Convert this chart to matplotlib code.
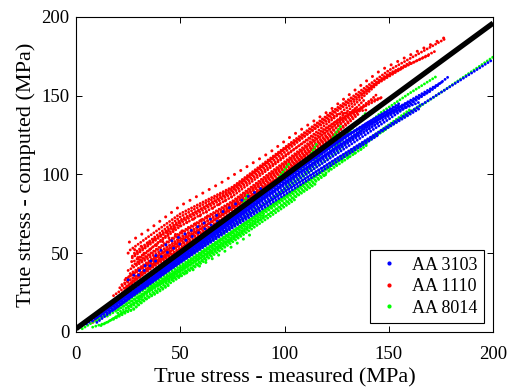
import matplotlib
matplotlib.use("Agg")
import matplotlib.pyplot as plt
from matplotlib.lines import Line2D

# ---------------- data ----------------
series_names = ["AA 3103", "AA 1110", "AA 8014"]
x_ticks = [0, 50, 100, 150, 200]
y_ticks = [0, 50, 100, 150, 200]

ideal_x = [0, 200]
ideal_y = [2, 196]

# AA 3103 (blue) curves: (measured, computed)
aa3103_curves = [
    ([5, 25, 50, 75, 100, 125, 150, 175, 200], [5, 23, 45, 67, 89, 110, 131, 152, 173]),
    ([8, 25, 50, 75, 100, 125, 150, 170, 178.6], [7, 24, 47, 70, 93, 115, 137, 153, 162]),
    ([10, 30, 50, 75, 100, 125, 150, 176], [9, 28, 48, 71, 95, 117, 139, 159]),
    ([12, 30, 50, 75, 100, 125, 150, 174], [10, 27, 46, 69, 91, 113, 135, 157]),
    ([15, 35, 55, 75, 100, 125, 150, 165], [12, 30, 49, 68, 89, 110, 130, 142]),
    ([10, 30, 50, 75, 100, 125, 145], [6, 26, 44, 66, 87, 108, 125]),
    ([20, 35, 50, 70, 90, 110, 130, 150, 165], [22, 36, 51, 70, 89, 107, 125, 138, 146]),
    ([18, 40, 60, 80, 100, 120, 140, 160], [14, 35, 55, 75, 94, 113, 131, 146]),
    ([28, 45, 65, 85, 105, 120], [25, 43, 63, 83, 101, 115]),
    ([22, 40, 60, 80, 100, 120, 140, 155], [18, 37, 57, 77, 97, 115, 133, 144]),
    ([15, 35, 55, 75, 95, 115, 135, 155], [15, 33, 52, 72, 92, 111, 129, 145]),
    ([25, 45, 65, 85, 105, 125, 145], [22, 41, 60, 80, 99, 116, 133]),
    ([30, 50, 70, 90, 110, 130, 150, 170], [30, 49, 68, 88, 107, 125, 139, 153]),
]
aa3103_sparse = [
    ([25, 35.5, 44, 50.7, 60, 75, 90], [33, 44.6, 56.5, 61, 68, 80, 92]),
    ([30, 40, 50, 60, 70], [36, 47, 56, 64, 72]),
]

# AA 1110 (red) curves
aa1110_curves = [
    ([26, 50, 75, 100, 125, 150, 177], [52, 75, 92, 117, 142, 166, 186]),
    ([27, 50, 75, 100, 125, 150, 172], [48, 71, 89, 114, 140, 163, 178]),
    ([28, 50, 75, 100, 125, 145, 160], [45, 67, 86, 111, 137, 159, 171]),
    ([27, 50, 75, 100, 125, 145, 156], [42, 63, 83, 108, 134, 158, 167]),
    ([30, 50, 75, 100, 125, 140, 147], [40, 60, 80, 105, 130, 146, 149]),
    ([26, 50, 75, 100, 125, 144], [37, 57, 78, 103, 127, 150.5]),
    ([24, 50, 75, 100, 120, 138], [34, 55, 76, 101, 123, 147]),
    ([22, 50, 75, 100, 125, 136], [30, 53, 75, 100, 126, 139]),
    ([18, 40, 60, 80, 100, 115], [23, 44, 62, 81, 101, 118]),
    ([8, 15, 25, 40, 55], [6, 14, 25, 42, 58]),
    ([23.5, 35, 50, 65, 80, 95], [33, 44, 58, 70, 83, 96]),
    ([30, 50, 75, 100, 125, 147], [46, 69, 88, 112, 134, 149]),
    ([28, 50, 75, 100, 125, 140], [50, 73, 91, 116, 138, 141]),
    ([27, 50, 75, 100, 125, 150, 170], [47, 70, 90, 116, 141, 164, 176]),
    ([29, 50, 75, 100, 120, 135], [43, 62, 82, 107, 127, 143]),
    ([25, 50, 75, 100, 115, 130], [39, 59, 81, 106, 122, 137]),
    ([21, 40, 60, 80, 100, 120], [28, 46, 65, 85, 104, 124]),
    ([20, 28, 35, 45], [22, 32, 40, 50]),
    ([24, 30, 38, 48], [28, 36, 44, 54]),
]
aa1110_sparse = [
    ([25.6, 35, 50, 70, 93, 103, 122, 138, 146, 162, 177], [57, 65, 80, 95, 114, 124, 141, 158, 166, 177, 187]),
    ([25, 35, 45, 60, 75], [50, 57, 64, 74, 86]),
    ([26.7, 35, 45, 55, 65], [44.6, 52, 60, 67, 75]),
]

# AA 8014 (green) curves
aa8014_curves = [
    ([3, 25, 50, 75, 100, 125, 150, 175, 200], [2, 20, 42, 64, 86, 108, 130, 152, 174.5]),
    ([10, 30, 50, 75, 100, 125, 146, 160, 173.2], [7, 25, 44, 67, 90, 114, 139, 151.5, 162.5]),
    ([12, 20, 40, 60, 80, 100, 119.6], [4, 10, 28, 45, 63, 82, 99.7]),
    ([70, 85, 95, 102.8], [62, 78, 94, 108]),
    ([85, 100, 110, 115.6], [76, 91, 106, 120]),
    ([95, 110, 120, 126.8], [86, 101, 117, 130.4]),
    ([110, 125, 135, 139.6], [101, 118, 133, 140]),
    ([60, 70, 78, 82.7], [56, 66, 76, 88]),
    ([8, 15, 22, 27.5, 32, 38, 45], [3, 6, 12, 14, 20, 24, 30]),
    ([20, 30, 35, 45, 55, 65, 80], [12, 20, 27, 33, 40, 50, 63]),
    ([15, 30, 45, 60, 80, 100, 120, 140, 160], [10, 22, 36, 50, 68, 86, 104, 122, 141]),
    ([25, 40, 60, 80, 100, 115], [16, 30, 47, 64, 81, 94]),
    ([18, 28, 38, 50, 65, 85, 105], [8, 15, 25, 35, 48, 66, 84]),
    ([20, 40, 60, 80, 100, 120, 140], [14, 31, 48, 66, 84, 101, 119]),
    ([30, 45, 60, 75, 90], [22, 34, 47, 60, 74]),
    ([35, 50, 70, 90, 110, 130, 150, 165], [28, 40, 58, 76, 94, 112, 130, 144]),
]
aa8014_sparse = [
    ([40, 46.6, 54.7, 70, 85], [30, 34, 38.3, 50, 63]),
    ([119.6, 122, 136.4, 141, 150], [99.7, 104, 115.6, 122, 130]),
]

# ---------------- drawing ----------------
plt.rcParams["font.family"] = ["Liberation Serif", "DejaVu Serif"]

fig = plt.figure(figsize=(5.1, 3.9), dpi=100)
ax = fig.add_axes([0.149, 0.149, 0.818, 0.808])

colors = {"AA 3103": (0, 0, 1), "AA 1110": (1, 0, 0), "AA 8014": (0, 1, 0)}
dense_style = dict(linestyle=(0, (0.01, 1.1)), linewidth=2.1, dash_capstyle="round")
sparse_style = dict(linestyle=(0, (0.01, 2.4)), linewidth=2.2, dash_capstyle="round")

def draw(curves, sparse, color, z):
    for xs, ys in curves:
        ax.plot(xs, ys, color=color, zorder=z, **dense_style)
    for xs, ys in sparse:
        ax.plot(xs, ys, color=color, zorder=z, **sparse_style)

draw(aa1110_curves, aa1110_sparse, colors["AA 1110"], 2)
draw(aa8014_curves, aa8014_sparse, colors["AA 8014"], 3)
draw(aa3103_curves, aa3103_sparse, colors["AA 3103"], 4)

ax.plot(ideal_x, ideal_y, color="black", linewidth=3.8, zorder=6, solid_capstyle="butt")

ax.set_xlim(0, 200)
ax.set_ylim(0, 200)
ax.set_xticks(x_ticks)
ax.set_yticks(y_ticks)
ax.tick_params(direction="in", top=True, right=True, length=4, width=0.7,
               labelsize=13.5)
ax.tick_params(axis="x", pad=10)
ax.tick_params(axis="y", pad=4.5)
for sp in ax.spines.values():
    sp.set_linewidth(0.8)

ax.set_xlabel("True stress - measured (MPa)", fontsize=16, labelpad=4)
ax.set_ylabel("True stress - computed (MPa)", fontsize=16, labelpad=4)

handles = [Line2D([], [], linestyle="none", marker=".", markersize=4,
                  color=colors[n]) for n in series_names]
leg = ax.legend(handles, series_names, loc="lower right", fontsize=13,
                frameon=True, fancybox=False, edgecolor="black", framealpha=1,
                borderaxespad=0.5, handlelength=1.4, handletextpad=0.6,
                borderpad=0.35, labelspacing=0.25)
leg.get_frame().set_linewidth(0.8)
leg.set_zorder(10)

fig.savefig("out.png", dpi=100)
